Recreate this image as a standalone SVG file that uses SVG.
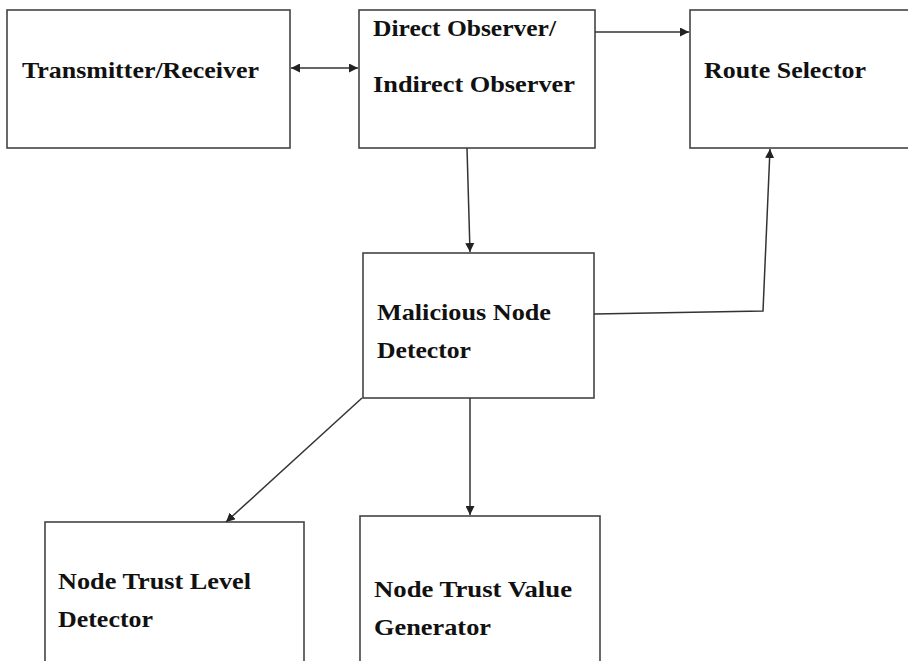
<svg xmlns="http://www.w3.org/2000/svg" width="908" height="661" viewBox="0 0 908 661">
<defs>
<marker id="ah" viewBox="0 0 10 10" refX="10" refY="5" markerWidth="9" markerHeight="9" markerUnits="userSpaceOnUse" orient="auto-start-reverse">
<path d="M0,0 L10,5 L0,10 z" fill="#222"/>
</marker>
<style>
.box{fill:#fff;stroke:#444;stroke-width:1.6}
.lbl{font-family:"Liberation Serif","Times New Roman",serif;font-weight:bold;font-size:22.5px;fill:#111}
.con{fill:none;stroke:#333;stroke-width:1.5}
</style>
</defs>
<rect width="908" height="661" fill="#fff"/>
<g id="transmitter">
<rect class="box" x="7" y="10" width="283" height="138"/>
<text class="lbl" x="22" y="78" textLength="237" lengthAdjust="spacingAndGlyphs">Transmitter/Receiver</text>
</g>
<g id="observer">
<rect class="box" x="359" y="10" width="236" height="138"/>
<text class="lbl" x="373" y="36" textLength="183" lengthAdjust="spacingAndGlyphs">Direct Observer/</text>
<text class="lbl" x="373" y="92" textLength="202" lengthAdjust="spacingAndGlyphs">Indirect Observer</text>
</g>
<g id="route">
<rect class="box" x="690" y="10" width="230" height="138"/>
<text class="lbl" x="704" y="78" textLength="162" lengthAdjust="spacingAndGlyphs">Route Selector</text>
</g>
<g id="malicious">
<rect class="box" x="363" y="253" width="231" height="145"/>
<text class="lbl" x="377" y="320" textLength="174" lengthAdjust="spacingAndGlyphs">Malicious Node</text>
<text class="lbl" x="377" y="358" textLength="94" lengthAdjust="spacingAndGlyphs">Detector</text>
</g>
<g id="trustlevel">
<rect class="box" x="45" y="522" width="259" height="160"/>
<text class="lbl" x="58" y="589" textLength="193" lengthAdjust="spacingAndGlyphs">Node Trust Level</text>
<text class="lbl" x="58" y="627" textLength="95" lengthAdjust="spacingAndGlyphs">Detector</text>
</g>
<g id="trustvalue">
<rect class="box" x="360" y="516" width="240" height="160"/>
<text class="lbl" x="374" y="597" textLength="198" lengthAdjust="spacingAndGlyphs">Node Trust Value</text>
<text class="lbl" x="374" y="635" textLength="117" lengthAdjust="spacingAndGlyphs">Generator</text>
</g>
<g id="connectors">
<line class="con" x1="291" y1="68" x2="358" y2="68" marker-start="url(#ah)" marker-end="url(#ah)"/>
<line class="con" x1="595" y1="32" x2="689" y2="32" marker-end="url(#ah)"/>
<line class="con" x1="467" y1="148" x2="470" y2="252" marker-end="url(#ah)"/>
<polyline class="con" points="594,314 763,311 770,149" marker-end="url(#ah)"/>
<line class="con" x1="362" y1="398" x2="226" y2="522" marker-end="url(#ah)"/>
<line class="con" x1="470" y1="398" x2="470" y2="515" marker-end="url(#ah)"/>
</g>
</svg>
